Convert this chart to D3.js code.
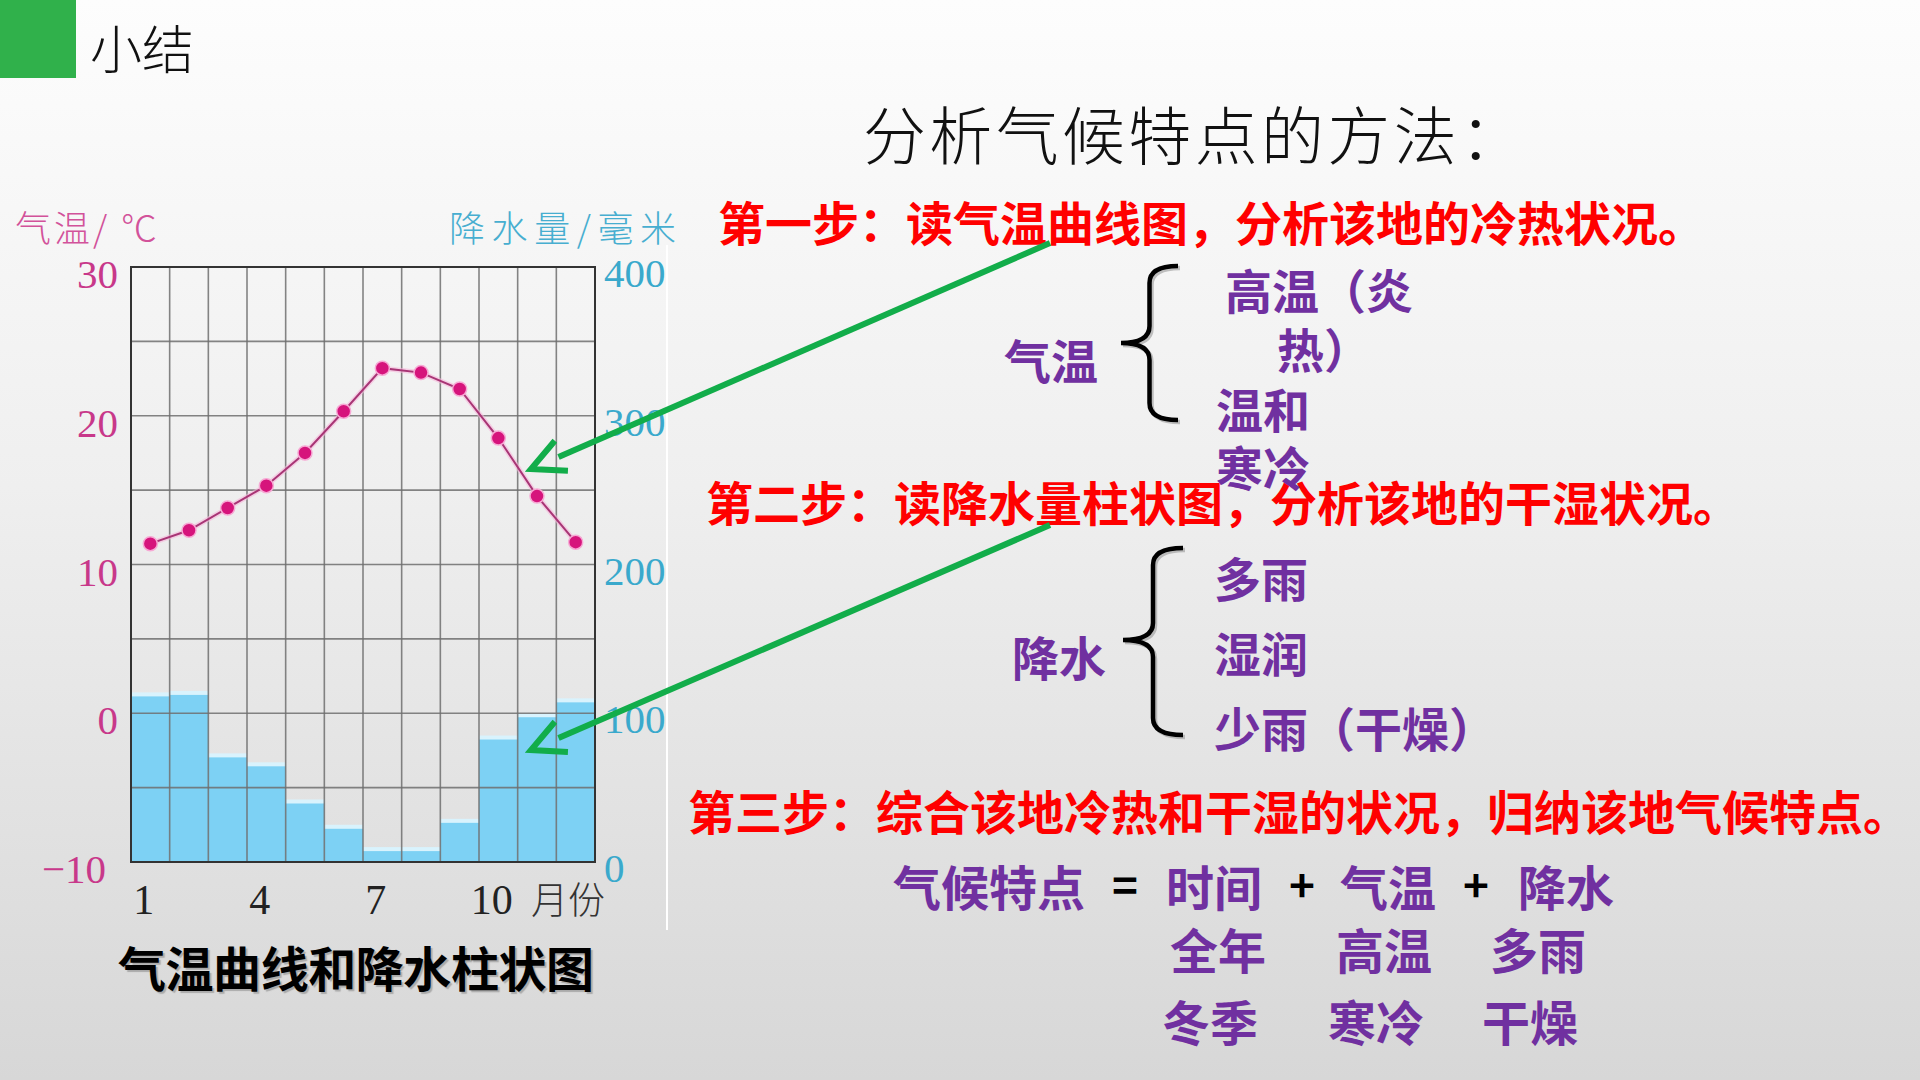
<!DOCTYPE html>
<html><head><meta charset="utf-8">
<script src="https://cdn.jsdelivr.net/npm/d3@7"></script>
<style>body{margin:0;overflow:hidden;background:#fff} svg{display:block}</style>
</head><body>
<svg id="c" width="1920" height="1080"></svg>
<script>
// ---- data ----
const months = [1,2,3,4,5,6,7,8,9,10,11,12];
const temperature = [11.4,12.3,13.8,15.3,17.5,20.3,23.2,22.9,21.8,18.5,14.6,11.5];
const precipitation = [112,113,71,65,40,23,8,8,27,83,98,108];
const tempTicks = [-10,0,10,20,30];
const tempGrid = [-10,-5,0,5,10,15,20,25,30];
const precipTicks = [0,100,200,300,400];
const monthTicks = [1,4,7,10];

const CJK = '"Noto Sans CJK SC","Noto Sans",sans-serif';
const SERIF = '"Liberation Serif","DejaVu Serif",serif';
const RED = '#ff0000', PURPLE = '#7030a0', GREEN = '#12ad4a';

const svg = d3.select('#c');
const defs = svg.append('defs');
const g = defs.append('linearGradient').attr('id','bg').attr('x1',0).attr('y1',0).attr('x2',0).attr('y2',1);
g.append('stop').attr('offset','0%').attr('stop-color','#fdfdfd');
g.append('stop').attr('offset','45%').attr('stop-color','#efefef');
g.append('stop').attr('offset','100%').attr('stop-color','#d7d7d7');
svg.append('rect').attr('width',1920).attr('height',1080).attr('fill','url(#bg)');

// header
svg.append('rect').attr('x',0).attr('y',0).attr('width',76).attr('height',78).attr('fill','#30b14b');
svg.append('text').attr('x',90).attr('y',46).attr('dominant-baseline','central')
  .style('font-family',CJK).style('font-size','52px').style('font-weight',300).attr('fill','#111').text('小结');
svg.append('text').attr('x',863).attr('y',131).attr('dominant-baseline','central')
  .style('font-family',CJK).style('font-size','63px').style('font-weight',300).attr('fill','#111')
  .attr('textLength',660).attr('lengthAdjust','spacing').text('分析气候特点的方法：');

// ---- chart ----
const L = 131, R = 595, T = 267, B = 862;
const x = d3.scaleBand().domain(months).range([L,R]).paddingInner(0).paddingOuter(0);
const yT = d3.scaleLinear().domain([-10,30]).range([B,T]);
const yP = d3.scaleLinear().domain([0,400]).range([B,T]);

const chart = svg.append('g');
chart.append('line').attr('x1',667).attr('x2',667).attr('y1',245).attr('y2',930)
  .attr('stroke','#ffffff').attr('stroke-width',2);

// bars
chart.selectAll('rect.bar').data(precipitation).join('rect').attr('class','bar')
  .attr('x',(d,i)=>x(months[i])).attr('width',x.bandwidth())
  .attr('y',d=>yP(d)).attr('height',d=>B-yP(d)).attr('fill','#7dd1f4');
chart.selectAll('rect.barTop').data(precipitation).join('rect').attr('class','barTop')
  .attr('x',(d,i)=>x(months[i])).attr('width',x.bandwidth())
  .attr('y',d=>yP(d)-3).attr('height',4).attr('fill','#d9f3fd');

// grid
chart.selectAll('line.hg').data(tempGrid).join('line').attr('class','hg')
  .attr('x1',L).attr('x2',R).attr('y1',d=>yT(d)).attr('y2',d=>yT(d))
  .attr('stroke','#6e6e6e').attr('stroke-width',1.6).attr('stroke-opacity',0.85);
chart.selectAll('line.vg').data(months.slice(1)).join('line').attr('class','vg')
  .attr('x1',d=>x(d)).attr('x2',d=>x(d)).attr('y1',T).attr('y2',B)
  .attr('stroke','#6e6e6e').attr('stroke-width',1.6).attr('stroke-opacity',0.85);
chart.append('rect').attr('x',L).attr('y',T).attr('width',R-L).attr('height',B-T)
  .attr('fill','none').attr('stroke','#333').attr('stroke-width',2);

// temperature line
const line = d3.line().x((d,i)=>x(months[i])+x.bandwidth()/2).y(d=>yT(d));
chart.append('path').datum(temperature).attr('d',line).attr('fill','none')
  .attr('stroke','#f6b6da').attr('stroke-width',5).attr('stroke-opacity',0.6);
chart.append('path').datum(temperature).attr('d',line).attr('fill','none')
  .attr('stroke','#a83575').attr('stroke-width',2);
chart.selectAll('circle.pt').data(temperature).join('circle').attr('class','pt')
  .attr('cx',(d,i)=>x(months[i])+x.bandwidth()/2).attr('cy',d=>yT(d)).attr('r',7)
  .attr('fill','#d6147c').attr('stroke','#f7a8d4').attr('stroke-width',1.5);

// axes
const axL = chart.append('g').attr('transform',`translate(${L},0)`)
  .call(d3.axisLeft(yT).tickValues(tempTicks).tickSize(0).tickPadding(13));
axL.select('.domain').remove();
axL.selectAll('text').style('font-family',SERIF).style('font-size','41px')
  .attr('fill','#c8388a').attr('dy','0.38em').attr('y',5)
  .attr('dx',d=>d===-10?-12:0);
const axR = chart.append('g').attr('transform',`translate(${R},0)`)
  .call(d3.axisRight(yP).tickValues(precipTicks).tickSize(0).tickPadding(9));
axR.select('.domain').remove();
axR.selectAll('text').style('font-family',SERIF).style('font-size','41px')
  .attr('fill','#3aa9cc').attr('dy','0.38em').attr('y',4);
const xc = d3.scalePoint().domain(months).range([L+x.bandwidth()/2-7, R-x.bandwidth()/2-7]);
const axB = chart.append('g').attr('transform',`translate(0,${B})`)
  .call(d3.axisBottom(xc).tickValues(monthTicks).tickSize(0).tickPadding(22));
axB.select('.domain').remove();
axB.selectAll('text').style('font-family',SERIF).style('font-size','42px').attr('fill','#222');
chart.append('text').attr('x',531).attr('y',898).attr('dominant-baseline','central')
  .style('font-family',CJK).style('font-size','37px').style('font-weight',300).attr('fill','#333').text('月份');

// axis titles
chart.append('text').attr('x',15).attr('y',226).attr('dominant-baseline','central')
  .style('font-family',CJK).style('font-size','36px').style('font-weight',300).attr('fill','#d2529a')
  .attr('textLength',142).attr('lengthAdjust','spacing').text('气温/ ℃');
chart.append('text').attr('x',449).attr('y',226).attr('dominant-baseline','central')
  .style('font-family',CJK).style('font-size','36px').style('font-weight',300).attr('fill','#47aed0')
  .attr('textLength',227).attr('lengthAdjust','spacing').text('降水量/毫米');

// caption
chart.append('text').attr('x',118).attr('y',966).attr('dominant-baseline','central')
  .style('font-family',CJK).style('font-size','48px').style('font-weight',700).attr('fill','#000')
  .attr('textLength',476).attr('lengthAdjust','spacing')
  .style('text-shadow','2px 2px 1px #aaa').text('气温曲线和降水柱状图');

// ---- right side texts ----
function txt(s, tx, ty, color, size, opts={}) {
  const t = svg.append('text').attr('x',tx).attr('y',ty).attr('dominant-baseline','central')
    .style('font-family',CJK).style('font-size',size+'px').style('font-weight',700)
    .attr('fill',color).text(s);
  if (opts.len) t.attr('textLength',opts.len).attr('lengthAdjust','spacing');
  if (opts.anchor) t.attr('text-anchor',opts.anchor);
  return t;
}
txt('第一步：读气温曲线图，分析该地的冷热状况。',718,220,RED,47,{len:987});
txt('第二步：读降水量柱状图，分析该地的干湿状况。',706,500,RED,47,{len:1034});
txt('第三步：综合该地冷热和干湿的状况，归纳该地气候特点。',688,809,RED,47,{len:1222});

// arrows
function arrow(sx, sy, vx, vy) {
  const dx = sx-vx, dy = sy-vy, len = Math.hypot(dx,dy), ux = dx/len, uy = dy/len;
  const rot = a => [ux*Math.cos(a)-uy*Math.sin(a), ux*Math.sin(a)+uy*Math.cos(a)];
  const a1 = rot(-0.46), a2 = rot(0.46);
  svg.append('line').attr('x1',sx).attr('y1',sy).attr('x2',vx+ux*30).attr('y2',vy+uy*30)
    .attr('stroke',GREEN).attr('stroke-width',6);
  svg.append('path').attr('d',`M${vx+a1[0]*37},${vy+a1[1]*37}L${vx},${vy}L${vx+a2[0]*37},${vy+a2[1]*37}`)
    .attr('fill','none').attr('stroke',GREEN).attr('stroke-width',6).attr('stroke-linejoin','miter');
}
arrow(1050,243,531,469);
arrow(1050,525,531,750);

// braces
function brace(x0, top, mid, bot, w) {
  const xm = x0+w*0.5, x1 = x0+w, r = 17;
  const d = `M${x1},${top}Q${xm},${top} ${xm},${top+r}L${xm},${mid-r}Q${xm},${mid} ${x0},${mid}` +
            `Q${xm},${mid} ${xm},${mid+r}L${xm},${bot-r}Q${xm},${bot} ${x1},${bot}`;
  svg.append('path').attr('d',d).attr('transform','translate(2,2)').attr('fill','none')
    .attr('stroke','#9a9a9a').attr('stroke-width',4.5).attr('stroke-opacity',0.6);
  svg.append('path').attr('d',d).attr('fill','none').attr('stroke','#000').attr('stroke-width',4.5);
}
brace(1121,266,343,420,57);
brace(1123,548,640,735,60);

txt('气温',1004,358,PURPLE,47);
txt('高温（炎',1225,288,PURPLE,47);
txt('热）',1277,347,PURPLE,47);
txt('温和',1216,407,PURPLE,47);
txt('寒冷',1216,465,PURPLE,47);
txt('降水',1012,655,PURPLE,47);
txt('多雨',1214,576,PURPLE,47);
txt('湿润',1214,651,PURPLE,47);
txt('少雨（干燥）',1214,726,PURPLE,47);

txt('气候特点',893,885,PURPLE,48);
txt('=',1125,883,'#000',44,{anchor:'middle'});
txt('时间',1166,885,PURPLE,48);
txt('+',1302,883,'#000',44,{anchor:'middle'});
txt('气温',1340,885,PURPLE,48);
txt('+',1476,883,'#000',44,{anchor:'middle'});
txt('降水',1518,885,PURPLE,48);
txt('全年',1170,948,PURPLE,48);
txt('高温',1336,948,PURPLE,48);
txt('多雨',1490,948,PURPLE,48);
txt('冬季',1162,1020,PURPLE,48);
txt('寒冷',1328,1020,PURPLE,48);
txt('干燥',1482,1020,PURPLE,48);
</script>
</body></html>
